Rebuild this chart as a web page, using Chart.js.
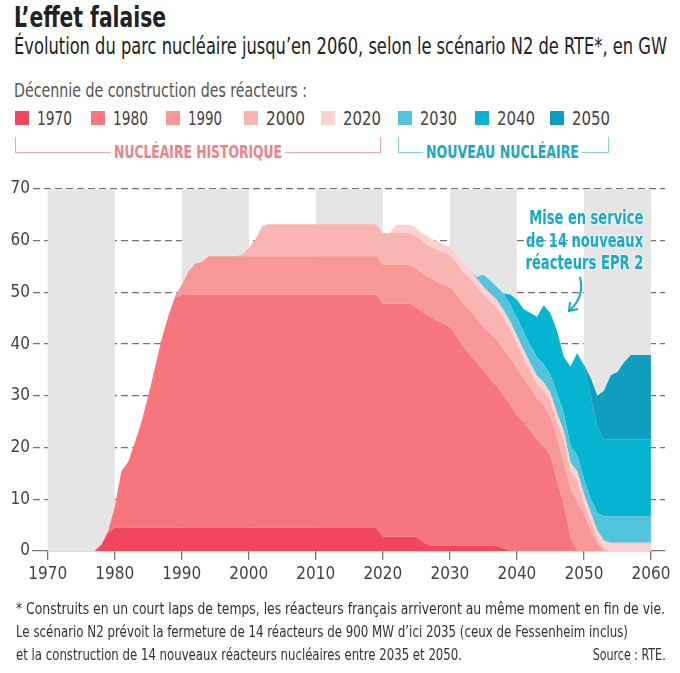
<!DOCTYPE html>
<html lang="fr">
<head>
<meta charset="utf-8">
<title>L’effet falaise</title>
<script src="https://cdn.jsdelivr.net/npm/chart.js@4.4.1/dist/chart.umd.min.js"></script>
<style>
  body { margin: 0; background: #fff; }
  #page {
    position: relative; width: 680px; height: 673px; overflow: hidden;
    font-family: "Liberation Sans Narrow", "DejaVu Sans Condensed", "Roboto", sans-serif;
    color: #333;
  }
  #chartBox { position: absolute; left: 0; top: 170px; width: 680px; height: 420px; }
  .t { position: absolute; white-space: nowrap; line-height: 1; transform-origin: left center; }
  .r { transform-origin: right center; }
  .sq { position: absolute; width: 14px; height: 14px; }
  .bracket { position: absolute; border: 1.5px solid; border-top: none; height: 15px; }
  .note { color: #17a9c5; font-weight: 700; font-size: 19px;
          text-shadow: 0 0 2px #fff, 0 0 3px #fff; }
  .foot { font-size: 16.5px; color: #333; }
</style>
</head>
<body>
<div id="page">
  <div id="chartBox"><canvas id="chart" width="680" height="420"></canvas></div>

  <div class="t" style="left:14px;top:4px;font-size:28px;font-weight:700;color:#222" data-w="152">L’effet falaise</div>
  <div class="t" style="left:14px;top:35px;font-size:23px;color:#222" data-w="653">Évolution du parc nucléaire jusqu’en 2060, selon le scénario N2 de RTE*, en GW</div>
  <div class="t" style="left:14px;top:80px;font-size:20px;color:#555" data-w="293">Décennie de construction des réacteurs :</div>

  <div id="legend"></div>

  <div class="bracket" style="left:15px;top:137px;width:364px;border-color:#f6a5aa"></div>
  <div class="t" style="left:111px;top:143px;font-size:18px;color:#f07f87;background:#fff;padding:0 4px;font-weight:700" data-w="174">NUCLÉAIRE HISTORIQUE</div>
  <div class="bracket" style="left:398px;top:137px;width:209px;border-color:#86d3e2"></div>
  <div class="t" style="left:423px;top:143px;font-size:18px;color:#17a9c5;background:#fff;padding:0 4px;font-weight:700" data-w="159">NOUVEAU NUCLÉAIRE</div>

  <div class="t r note" style="right:37px;top:208px" data-w="114">Mise en service</div>
  <div class="t r note" style="right:37px;top:231px" data-w="117">de 14 nouveaux</div>
  <div class="t r note" style="right:37px;top:253px" data-w="118">réacteurs EPR 2</div>
  <svg style="position:absolute;left:0;top:0" width="680" height="673">
    <path d="M580,277 Q585,297 569,311" fill="none" stroke="#17a9c5" stroke-width="2"/>
    <path d="M570,302 L569,311 L578,309" fill="none" stroke="#17a9c5" stroke-width="2"/>
  </svg>

  <div class="t foot" style="left:16px;top:601px" data-w="649">* Construits en un court laps de temps, les réacteurs français arriveront au même moment en fin de vie.</div>
  <div class="t foot" style="left:16px;top:624px" data-w="612">Le scénario N2 prévoit la fermeture de 14 réacteurs de 900 MW d’ici 2035 (ceux de Fessenheim inclus)</div>
  <div class="t foot" style="left:16px;top:647px" data-w="446">et la construction de 14 nouveaux réacteurs nucléaires entre 2035 et 2050.</div>
  <div class="t r foot" style="right:14px;top:647px" data-w="73">Source : RTE.</div>
</div>

<script>
// years of the series (one point per year)
const years = [
  1977, 1978, 1979,
  1980, 1981, 1982, 1983, 1984, 1985, 1986, 1987, 1988, 1989,
  1990, 1991, 1992, 1993, 1994, 1995, 1996, 1997, 1998, 1999,
  2000, 2001, 2002, 2003, 2004, 2005, 2006, 2007, 2008, 2009,
  2010, 2011, 2012, 2013, 2014, 2015, 2016, 2017, 2018, 2019,
  2020, 2021, 2022, 2023, 2024, 2025, 2026, 2027, 2028, 2029,
  2030, 2031, 2032, 2033, 2034, 2035, 2036, 2037, 2038, 2039,
  2040, 2041, 2042, 2043, 2044, 2045, 2046, 2047, 2048, 2049,
  2050, 2051, 2052, 2053, 2054, 2055, 2056, 2057, 2058, 2059,
  2060
];

// capacity in GW by decade of construction (stacked)
const gw1970 = [
  0, 1.2, 3.5,
  4.5, 4.5, 4.5, 4.5, 4.5, 4.5, 4.5, 4.5, 4.5, 4.5,
  4.5, 4.5, 4.5, 4.5, 4.5, 4.5, 4.5, 4.5, 4.5, 4.5,
  4.5, 4.5, 4.5, 4.5, 4.5, 4.5, 4.5, 4.5, 4.5, 4.5,
  4.5, 4.5, 4.5, 4.5, 4.5, 4.5, 4.5, 4.5, 4.5, 4.5,
  2.8, 2.8, 2.8, 2.8, 2.8, 2.8, 1.8, 1.0, 1.0, 1.0,
  1.0, 1.0, 1.0, 1.0, 1.0, 1.0, 1.0, 1.0, 0.5, 0,
  0, 0, 0, 0, 0, 0, 0, 0, 0, 0,
  0, 0, 0, 0, 0, 0, 0, 0, 0, 0,
  0
];
const gw1980 = [
  0, 0, 0.3,
  4.0, 11.0, 12.7, 16.5, 20.5, 25.5, 31.0, 36.5, 41.0, 44.5,
  45, 45, 45, 45, 45, 45, 45, 45, 45, 45,
  45, 45, 45, 45, 45, 45, 45, 45, 45, 45,
  45, 45, 45, 45, 45, 45, 45, 45, 45, 45,
  45, 45, 45, 45, 45, 44.3, 44.3, 44.3, 43.6, 43.0,
  42.3, 40.5, 38.5, 37.0, 35.4, 33.8, 32.3, 30.8, 29.5, 28.3,
  26.2, 25.0, 23.3, 21.5, 20.2, 18.5, 13.5, 9.0, 2.5, 0,
  0, 0, 0, 0, 0, 0, 0, 0, 0, 0,
  0
];
const gw1990 = [
  0, 0, 0,
  0, 0, 0, 0, 0, 0, 0, 0, 0, 0.3,
  2.0, 4.5, 6.1, 6.4, 7.5, 7.5, 7.5, 7.5, 7.5, 7.5,
  7.5, 7.5, 7.5, 7.5, 7.5, 7.5, 7.5, 7.5, 7.5, 7.5,
  7.5, 7.5, 7.5, 7.5, 7.5, 7.5, 7.5, 7.5, 7.5, 7.5,
  7.5, 7.5, 7.5, 7.5, 7.5, 7.5, 7.5, 7.5, 7.5, 7.5,
  7.7, 8.0, 8.2, 8.5, 8.5, 8.5, 8.7, 9.0, 9.0, 9.0,
  9.0, 8.5, 8.2, 8.0, 8.0, 7.5, 8.5, 8.0, 9.5, 9.5,
  7.2, 4.0, 1.5, 0, 0, 0, 0, 0, 0, 0,
  0
];
const gw2000 = [
  0, 0, 0,
  0, 0, 0, 0, 0, 0, 0, 0, 0, 0,
  0, 0, 0, 0, 0, 0, 0, 0, 0, 0.3,
  1.6, 3.3, 5.8, 6.2, 6.2, 6.2, 6.2, 6.2, 6.2, 6.2,
  6.2, 6.2, 6.2, 6.2, 6.2, 6.2, 6.2, 6.2, 6.2, 6.2,
  6.2, 6.2, 6.2, 6.2, 6.2, 6.2, 6.2, 6.2, 6.2, 6.2,
  6.2, 6.2, 6.2, 6.2, 6.2, 6.2, 6.2, 6.2, 6.0, 5.5,
  4.8, 3.8, 3.2, 2.8, 2.8, 3.0, 3.0, 4.5, 3.5, 4.3,
  2.2, 1.9, 0.9, 0.4, 0, 0, 0, 0, 0, 0,
  0
];
const gw2020 = [
  0, 0, 0,
  0, 0, 0, 0, 0, 0, 0, 0, 0, 0,
  0, 0, 0, 0, 0, 0, 0, 0, 0, 0,
  0, 0, 0, 0, 0, 0, 0, 0, 0, 0,
  0, 0, 0, 0, 0, 0, 0, 0, 0, 0,
  0, 0, 1.6, 1.6, 1.6, 1.6, 1.6, 1.6, 1.6, 1.6,
  1.6, 1.6, 1.6, 1.6, 1.6, 1.6, 1.6, 1.6, 1.6, 1.6,
  1.6, 1.6, 1.6, 1.6, 1.6, 1.6, 1.6, 1.6, 1.6, 1.6,
  1.6, 1.6, 1.6, 1.6, 1.6, 1.6, 1.6, 1.6, 1.6, 1.6,
  1.6
];
const gw2030 = [
  0, 0, 0,
  0, 0, 0, 0, 0, 0, 0, 0, 0, 0,
  0, 0, 0, 0, 0, 0, 0, 0, 0, 0,
  0, 0, 0, 0, 0, 0, 0, 0, 0, 0,
  0, 0, 0, 0, 0, 0, 0, 0, 0, 0,
  0, 0, 0, 0, 0, 0, 0, 0, 0, 0,
  0, 0, 0, 0, 0.3, 2.3, 2.5, 2.5, 3.2, 3.3,
  3.5, 3.5, 3.5, 3.5, 3.5, 3.5, 3.8, 3.5, 3.3, 3.0,
  3.0, 2.6, 3.4, 4.7, 5.1, 5.1, 5.1, 5.1, 5.1, 5.1,
  5.1
];
const gw2040 = [
  0, 0, 0,
  0, 0, 0, 0, 0, 0, 0, 0, 0, 0,
  0, 0, 0, 0, 0, 0, 0, 0, 0, 0,
  0, 0, 0, 0, 0, 0, 0, 0, 0, 0,
  0, 0, 0, 0, 0, 0, 0, 0, 0, 0,
  0, 0, 0, 0, 0, 0, 0, 0, 0, 0,
  0, 0, 0, 0, 0, 0, 0, 0, 0, 1.9,
  3.5, 4.4, 6.2, 7.9, 11.4, 11.9, 12.1, 10.9, 15.3, 19.9,
  21.5, 19.9, 16.6, 14.8, 14.8, 14.9, 14.8, 14.9, 14.9, 14.9,
  14.9
];
const gw2050 = [
  0, 0, 0,
  0, 0, 0, 0, 0, 0, 0, 0, 0, 0,
  0, 0, 0, 0, 0, 0, 0, 0, 0, 0,
  0, 0, 0, 0, 0, 0, 0, 0, 0, 0,
  0, 0, 0, 0, 0, 0, 0, 0, 0, 0,
  0, 0, 0, 0, 0, 0, 0, 0, 0, 0,
  0, 0, 0, 0, 0, 0, 0, 0, 0, 0,
  0, 0, 0, 0, 0, 0, 0, 0, 0, 0,
  0.5, 3.5, 6.0, 9.5, 12.5, 13.0, 15.0, 16.3, 16.3, 16.3,
  16.3
];

const decades = ["1970", "1980", "1990", "2000", "2020", "2030", "2040", "2050"];
const xTicks = [1970, 1980, 1990, 2000, 2010, 2020, 2030, 2040, 2050, 2060];
const bandStarts = [1970, 1990, 2010, 2030, 2050];

const series = [gw1970, gw1980, gw1990, gw2000, gw2020, gw2030, gw2040, gw2050];
const colors = ["#f1475b", "#f6767b", "#f89896", "#fab4b2", "#fdd2d1", "#52c5dc", "#04b4d0", "#0f9ebf"];

// legend (squares + labels), positioned like the original
const legendX = [37, 113, 188, 266, 343, 420, 497, 572];
const legendW = [35, 35, 34, 39, 38, 37, 38, 38];
const legend = document.getElementById("legend");
decades.forEach((d, i) => {
  const sq = document.createElement("div");
  sq.className = "sq";
  sq.style.left = (legendX[i] - 22) + "px";
  sq.style.top = "111px";
  sq.style.background = colors[i];
  legend.appendChild(sq);
  const lab = document.createElement("div");
  lab.className = "t";
  lab.style.left = legendX[i] + "px";
  lab.style.top = "108px";
  lab.style.fontSize = "20px";
  lab.style.color = "#444";
  lab.dataset.w = legendW[i];
  lab.textContent = d;
  legend.appendChild(lab);
});

// squeeze texts to the widths of the original (condensed face)
document.querySelectorAll("[data-w]").forEach((el) => {
  const w = el.getBoundingClientRect().width;
  el.style.transform = `scaleX(${el.dataset.w / w})`;
});

const bandsPlugin = {
  id: "bands",
  beforeDatasetsDraw(chart) {
    const { ctx, scales: { x, y } } = chart;
    const top = y.getPixelForValue(70);
    const bottom = y.getPixelForValue(0);
    ctx.save();
    ctx.fillStyle = "#e5e5e5";
    bandStarts.forEach((b) => {
      const x0 = x.getPixelForValue(b);
      const x1 = x.getPixelForValue(b + 10);
      ctx.fillRect(x0, top, x1 - x0, bottom - top);
    });
    ctx.restore();
  }
};

const tickFont = { family: '"Liberation Sans Narrow", "DejaVu Sans Condensed", "Roboto", sans-serif', size: 17 };

new Chart(document.getElementById("chart"), {
  type: "line",
  data: {
    labels: years,
    datasets: series.map((s, i) => ({
      label: decades[i],
      data: s,
      backgroundColor: colors[i],
      borderWidth: 0,
      pointRadius: 0,
      tension: 0,
      fill: i === 0 ? "origin" : "-1",
    })),
  },
  options: {
    responsive: false,
    animation: false,
    layout: { padding: { top: 19, right: 15, left: 0, bottom: 0 } },
    plugins: { legend: { display: false }, tooltip: { enabled: false } },
    scales: {
      x: {
        type: "linear",
        min: 1967.8,
        max: 2062.1,
        z: 1,
        afterBuildTicks: (s) => { s.ticks = xTicks.map((v) => ({ value: v })); },
        afterFit: (s) => { s.height = 39; },
        grid: { drawOnChartArea: false, drawTicks: true, tickLength: 9, color: "#777", lineWidth: 1.3 },
        border: { display: true, color: "#777", width: 1.3 },
        ticks: { font: tickFont, color: "#444", padding: 4, maxRotation: 0, callback: (v) => String(v) },
      },
      y: {
        stacked: true,
        min: 0,
        max: 70,
        z: 1,
        afterFit: (s) => { s.width = 33; },
        ticks: { stepSize: 10, font: tickFont, color: "#444", padding: 3 },
        grid: {
          color: (c) => (c.tick.value === 0 ? "rgba(0,0,0,0)" : "rgba(70,70,70,0.75)"),
          lineWidth: 1.3,
          drawTicks: false,
        },
        border: { display: false, dash: [7, 4] },
      },
    },
  },
  plugins: [bandsPlugin],
});
</script>
</body>
</html>
